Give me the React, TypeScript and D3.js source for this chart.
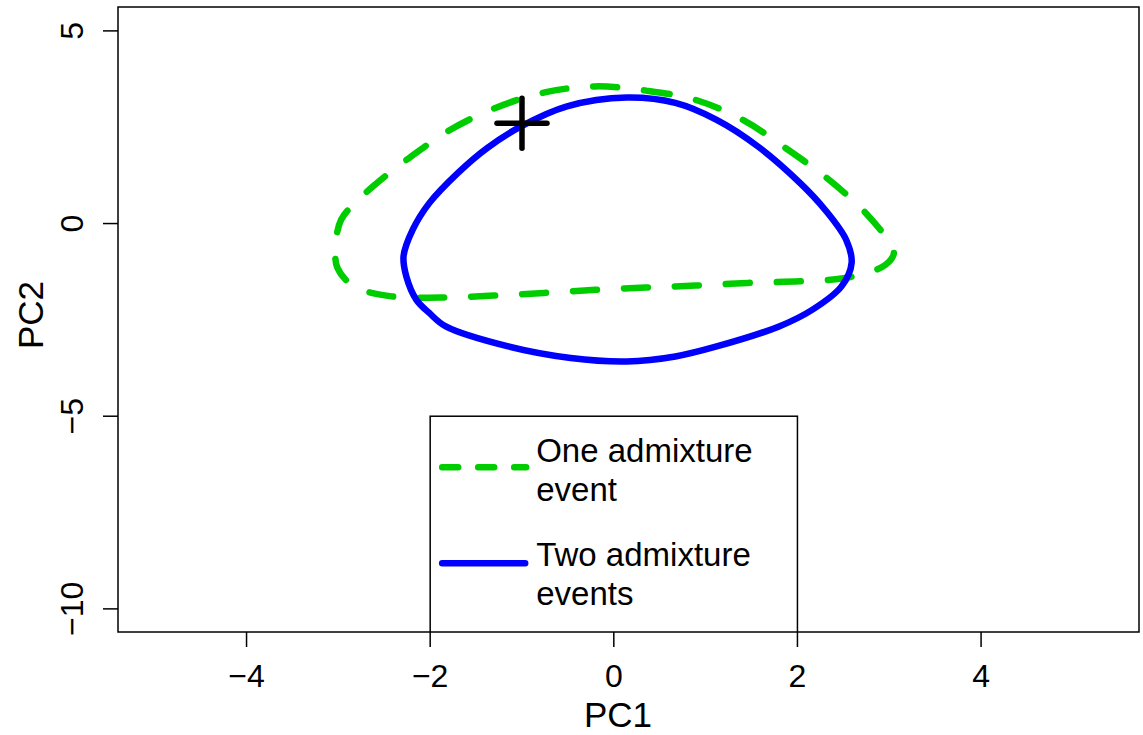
import React from "react";
import * as d3 from "d3";

const W = 1143;
const H = 735;

// Data
const xTicks = [-4, -2, 0, 2, 4];
const yTicks = [5, 0, -5, -10];

const blueX = [0.14, 0.67, 1.12, 1.57, 2.03, 2.30, 2.53, 2.59, 2.48, 2.16, 1.80, 1.12, 0.67, 0.14, -0.47, -1.15, -1.83, -2.01, -2.15, -2.26, -2.29, -2.19, -2.01, -1.70, -1.38, -1.01, -0.51];
const blueY = [3.27, 3.13, 2.69, 2.00, 1.05, 0.36, -0.42, -1.02, -1.63, -2.24, -2.67, -3.19, -3.45, -3.58, -3.49, -3.19, -2.67, -2.32, -1.98, -1.37, -0.85, -0.16, 0.53, 1.31, 1.96, 2.52, 3.04];

const greenX = [-0.20, 0.35, 0.89, 1.42, 1.87, 2.32, 2.73, 2.98, 3.05, 2.96, 2.73, 2.44, 2.03, 1.46, 0.89, 0.35, -0.20, -0.76, -1.31, -1.88, -2.42, -2.83, -3.01, -3.03, -2.97, -2.78, -2.56, -2.23, -1.79, -1.29, -0.74];
const greenY = [3.56, 3.45, 3.21, 2.67, 1.96, 1.18, 0.31, -0.42, -0.77, -1.07, -1.30, -1.44, -1.50, -1.54, -1.61, -1.66, -1.72, -1.80, -1.87, -1.92, -1.89, -1.63, -1.15, -0.59, 0.10, 0.62, 1.09, 1.70, 2.42, 3.00, 3.41];

const markerPoint = [-1.0, 2.6];

const legendLabels = [["One admixture", "event"], ["Two admixture", "events"]];
const legendBox = { x0: -2, x1: 2, yTop: -5 };

const GREEN = "#00CD00";
const BLUE = "#0000FF";
const FONT = "'Liberation Sans', Arial, Helvetica, sans-serif";

export default function App() {
  const left = 118, right = 1139, top = 7, bottom = 632;
  const x = d3.scaleLinear().domain([-5.4, 5.72]).range([left, right]);
  const y = d3.scaleLinear().domain([-10.6, 5.62]).range([bottom, top]);

  const line = d3
    .line<[number, number]>()
    .x((d) => x(d[0]))
    .y((d) => y(d[1]))
    .curve(d3.curveCatmullRomClosed.alpha(0.5));

  const blue: [number, number][] = blueX.map((v, i) => [v, blueY[i]]);
  const green: [number, number][] = greenX.map((v, i) => [v, greenY[i]]);

  const mx = x(markerPoint[0]);
  const my = y(markerPoint[1]);

  const lx0 = x(legendBox.x0);
  const lx1 = x(legendBox.x1);
  const ly0 = y(legendBox.yTop);

  return (
    <svg
      width={W}
      height={H}
      style={{ position: "absolute", left: 0, top: 0, background: "#fff" }}
      fontFamily={FONT}
    >
      <defs>
        <clipPath id="plotClip">
          <rect x={left} y={top} width={right - left} height={bottom - top} />
        </clipPath>
      </defs>
      <rect x={0} y={0} width={W} height={H} fill="#fff" />
      <g clipPath="url(#plotClip)">
        <path d={line(green) ?? ""} fill="none" stroke={GREEN} strokeWidth={6.5} strokeDasharray="24 27" strokeLinecap="round" />
        <path d={line(blue) ?? ""} fill="none" stroke={BLUE} strokeWidth={6.5} strokeLinecap="round" />
        <g stroke="#000" strokeWidth={5.5} strokeLinecap="round">
          <line x1={mx - 25} x2={mx + 25} y1={my} y2={my} />
          <line x1={mx} x2={mx} y1={my - 25} y2={my + 25} />
        </g>
        {/* legend */}
        <rect x={lx0} y={ly0} width={lx1 - lx0} height={bottom + 20 - ly0} fill="#fff" stroke="#000" strokeWidth={1.5} />
        <line x1={lx0 + 12} x2={lx0 + 96} y1={ly0 + 51} y2={ly0 + 51} stroke={GREEN} strokeWidth={6.5} strokeDasharray="16 20" strokeLinecap="round" />
        <line x1={lx0 + 12} x2={lx0 + 95} y1={ly0 + 147} y2={ly0 + 147} stroke={BLUE} strokeWidth={6.5} strokeLinecap="round" />
        {legendLabels.map((lines, i) => (
          <text key={i} x={lx0 + 106} y={ly0 + 46 + i * 104} fontSize={33} fill="#000">
            {lines.map((t, j) => (
              <tspan key={j} x={lx0 + 106} dy={j === 0 ? 0 : 39}>
                {t}
              </tspan>
            ))}
          </text>
        ))}
      </g>
      {/* box */}
      <rect x={left} y={top} width={right - left} height={bottom - top} fill="none" stroke="#000" strokeWidth={1.5} />
      {/* x axis */}
      <g>
        {xTicks.map((t) => (
          <g key={t}>
            <line x1={x(t)} x2={x(t)} y1={bottom} y2={bottom + 15} stroke="#000" strokeWidth={1.5} />
            <text x={x(t)} y={687} fontSize={32} textAnchor="middle" fill="#000">
              {t < 0 ? "\u2212" + Math.abs(t) : String(t)}
            </text>
          </g>
        ))}
        <text x={618} y={727} fontSize={35} textAnchor="middle" fill="#000">
          PC1
        </text>
      </g>
      {/* y axis */}
      <g>
        {yTicks.map((t) => (
          <g key={t}>
            <line x1={left - 15} x2={left} y1={y(t)} y2={y(t)} stroke="#000" strokeWidth={1.5} />
            <text
              transform={`translate(${83},${y(t)}) rotate(-90)`}
              fontSize={32}
              textAnchor="middle"
              fill="#000"
            >
              {t < 0 ? "\u2212" + Math.abs(t) : String(t)}
            </text>
          </g>
        ))}
        <text
          transform={`translate(${43},${315}) rotate(-90)`}
          fontSize={35}
          textAnchor="middle"
          fill="#000"
        >
          PC2
        </text>
      </g>
    </svg>
  );
}
